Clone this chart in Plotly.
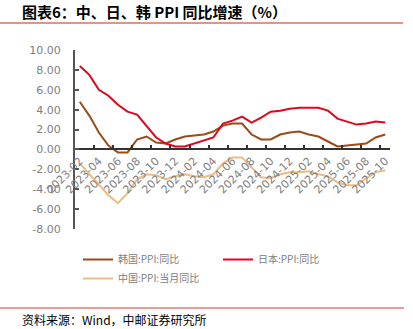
import plotly.graph_objects as go

months = [
    "2023-02", "2023-03", "2023-04", "2023-05", "2023-06", "2023-07", "2023-08",
    "2023-09", "2023-10", "2023-11", "2023-12", "2024-01", "2024-02", "2024-03",
    "2024-04", "2024-05", "2024-06", "2024-07", "2024-08", "2024-09", "2024-10",
    "2024-11", "2024-12", "2025-01", "2025-02", "2025-03", "2025-04", "2025-05",
    "2025-06", "2025-07", "2025-08", "2025-09", "2025-10",
]

korea_ppi = [4.8, 3.4, 1.7, 0.4, -0.3, -0.3, 1.0, 1.3, 0.7, 0.6, 1.0, 1.3, 1.4,
             1.5, 1.8, 2.4, 2.6, 2.6, 1.5, 1.0, 1.0, 1.5, 1.7, 1.8, 1.5, 1.3,
             0.8, 0.3, 0.4, 0.5, 0.6, 1.2, 1.5]
japan_ppi = [8.4, 7.5, 6.0, 5.4, 4.5, 3.8, 3.5, 2.4, 1.2, 0.6, 0.3, 0.3, 0.6,
             0.9, 1.2, 2.6, 2.9, 3.3, 2.7, 3.2, 3.8, 3.9, 4.1, 4.2, 4.2, 4.2,
             3.9, 3.1, 2.8, 2.5, 2.6, 2.8, 2.7]
china_ppi = [-1.4, -2.5, -3.6, -4.6, -5.4, -4.4, -3.0, -2.5, -2.6, -3.0, -2.7,
             -2.5, -2.7, -2.8, -2.5, -1.4, -0.8, -0.8, -1.8, -2.8, -2.9, -2.5,
             -2.3, -2.3, -2.2, -2.5, -2.7, -3.3, -3.6, -3.6, -2.9, -2.3, -2.1]

y_ticks = [10, 8, 6, 4, 2, 0, -2, -4, -6, -8]
x_ticks = months[::2]

series = [
    ("韩国:PPI:同比", korea_ppi, "#9C4A18"),
    ("日本:PPI:同比", japan_ppi, "#E0061B"),
    ("中国:PPI:当月同比", china_ppi, "#EDBC82"),
]

CJK = "Noto Sans CJK SC"

# plot-area geometry in pixels
W, H = 413, 329
L, R, T, B = 75, 23, 50, 100
PW, PH = W - L - R, H - T - B


def px_x(x):
    return (x - L) / PW


def px_y(y):
    return (H - B - y) / PH


fig = go.Figure()
for name, vals, color in series:
    fig.add_trace(go.Scatter(
        x=months, y=vals, name=name, mode="lines",
        line=dict(color=color, width=2),
    ))

y_min, y_max = -8, 10

fig.update_layout(
    width=W, height=H,
    margin=dict(l=L, r=R, t=T, b=B, autoexpand=False),
    paper_bgcolor="white", plot_bgcolor="white",
    font=dict(family=CJK, color="#7f7f7f"),
    showlegend=True,
    legend=dict(
        orientation="h",
        x=px_x(78), y=px_y(245), xanchor="left", yanchor="top",
        entrywidth=95, entrywidthmode="pixels",
        font=dict(size=10, color="#808080", family=CJK),
        tracegroupgap=0, itemwidth=30,
    ),
    xaxis=dict(
        type="category", categoryorder="array", categoryarray=months,
        range=[-0.5, len(months) - 0.5],
        tickmode="array", tickvals=x_ticks, ticktext=x_ticks,
        tickson="boundaries", tickangle=-45,
        ticks="inside", ticklen=4, tickcolor="#333333", tickwidth=1.5,
        showline=True, linecolor="#333333", linewidth=1.5,
        showgrid=False, zeroline=False,
        anchor="free", position=(0 - y_min) / (y_max - y_min),
        tickfont=dict(size=11, color="#808080", family="DejaVu Sans"),
    ),
    yaxis=dict(
        range=[y_min, y_max], domain=[0, 1],
        tickmode="array", tickvals=y_ticks,
        ticktext=[f"{v:.2f}" for v in y_ticks],
        ticks="inside", ticklen=4, tickcolor="#555555", tickwidth=1.5,
        showline=True, linecolor="#555555", linewidth=2,
        showgrid=False, zeroline=False,
        ticklabelstandoff=10,
        tickfont=dict(size=11, color="#808080", family="DejaVu Sans"),
    ),
)

# heading, rules and source note
fig.add_annotation(
    text="<b>图表6：中、日、韩 PPI 同比增速（%）</b>",
    xref="paper", yref="paper", x=px_x(20), y=px_y(11),
    xanchor="left", yanchor="middle", showarrow=False,
    font=dict(size=15, color="#000000", family=CJK),
)
fig.add_shape(type="line", xref="paper", yref="paper",
              x0=px_x(0), x1=px_x(403), y0=px_y(23), y1=px_y(23),
              line=dict(color="#E8908C", width=2))
fig.add_shape(type="line", xref="paper", yref="paper",
              x0=px_x(0), x1=px_x(404), y0=px_y(308), y1=px_y(308),
              line=dict(color="#D23A3A", width=1))
fig.add_annotation(
    text="资料来源：Wind，中邮证券研究所",
    xref="paper", yref="paper", x=px_x(20), y=px_y(319),
    xanchor="left", yanchor="middle", showarrow=False,
    font=dict(size=12, color="#000000", family=CJK),
)

fig.write_html("out.html")
